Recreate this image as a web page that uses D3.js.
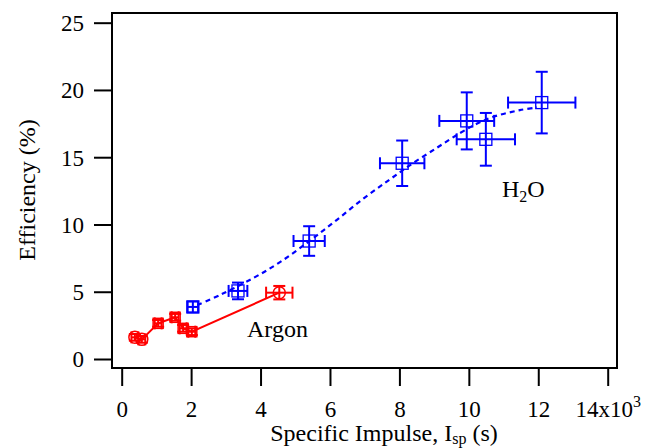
<!DOCTYPE html>
<html><head><meta charset="utf-8">
<script src="https://cdn.jsdelivr.net/npm/d3@7"></script>
<style>
body{margin:0;background:#fff;}
svg{display:block;}
</style></head>
<body><svg id="c" width="645" height="448"></svg>
<script>
// ---- data ----
const xTicks = [0, 2000, 4000, 6000, 8000, 10000, 12000, 14000];
const xTickLabels = ["0", "2", "4", "6", "8", "10", "12", "14x10"];
const yTicks = [0, 5, 10, 15, 20, 25];
const yTickLabels = ["0", "5", "10", "15", "20", "25"];

const h2oIsp = [2050, 3350, 5400, 8080, 9940, 10490, 12100];
const h2oEff = [3.87, 5.06, 8.77, 14.55, 17.70, 16.33, 19.06];
const h2oIspErr = [150, 270, 450, 640, 790, 840, 970];
const h2oEffErr = [0.4, 0.62, 1.1, 1.69, 2.12, 1.96, 2.29];

const h2oFitIsp = [2180, 2830, 3780, 4560, 5400, 6200, 7000, 7700, 8300, 9080, 9750, 10240, 10700, 11470, 11960];
const h2oFitEff = [4.01, 4.76, 6.0, 7.2, 8.75, 10.35, 12.0, 13.3, 14.4, 15.7, 16.8, 17.5, 18.0, 18.5, 18.7];

const arIsp = [380, 580, 1050, 1540, 1770, 2020, 4540];
const arEff = [1.61, 1.46, 2.65, 3.10, 2.28, 2.03, 4.93];
const arIspErr = [100, 100, 100, 100, 100, 100, 380];
const arEffErr = [0.25, 0.25, 0.25, 0.25, 0.25, 0.25, 0.5];
const arMarker = ["circle", "circle", "square", "square", "square", "square", "circle"];

const FONT = '"Liberation Serif"';

// ---- layout ----
const L = 112, R = 617, T = 13, B = 368;
const svg = d3.select("#c");
const x = d3.scaleLinear().domain([-279, 14268]).range([L, R]);
const y = d3.scaleLinear().domain([-0.669, 25.72]).range([B, T]);
const blue = "#0000ff", red = "#ff0000";
const FS = 23, TS = 24;

// axes
const gx = svg.append("g").attr("transform", `translate(0,${B})`)
  .call(d3.axisBottom(x).tickValues(xTicks).tickSize(18).tickFormat((d, i) => xTickLabels[i]));
const gy = svg.append("g").attr("transform", `translate(${L},0)`)
  .call(d3.axisLeft(y).tickValues(yTicks).tickSize(18).tickPadding(10).tickFormat((d, i) => yTickLabels[i]));
[gx, gy].forEach(g => {
  g.attr("font-family", FONT).attr("font-size", FS);
  g.select(".domain").remove();
  g.selectAll(".tick line").attr("stroke", "#000").attr("stroke-width", 2);
  g.selectAll(".tick text").attr("fill", "#000").attr("font-family", FONT).attr("font-size", FS);
});
gx.selectAll(".tick text").attr("dy", null).attr("y", 49);
gx.selectAll(".tick").filter((d, i) => i === xTicks.length - 1).select("text")
  .append("tspan").attr("dy", -10).attr("font-size", 16).text("3");
gy.selectAll(".tick text").attr("dy", "0.34em");

// frame
svg.append("rect").attr("x", L).attr("y", T).attr("width", R - L).attr("height", B - T)
  .attr("fill", "none").attr("stroke", "#000").attr("stroke-width", 2);

// titles
svg.append("text").attr("transform", "translate(35,190) rotate(-90)").attr("text-anchor", "middle")
  .attr("font-family", FONT).attr("font-size", TS).text("Efficiency (%)");
const xt = svg.append("text").attr("x", 384).attr("y", 441).attr("text-anchor", "middle")
  .attr("font-family", FONT).attr("font-size", TS);
xt.append("tspan").text("Specific Impulse, I");
xt.append("tspan").attr("font-size", 16).attr("dy", 3).text("sp");
xt.append("tspan").attr("dy", -3).text(" (s)");

// fit line
const line = d3.line().x(d => x(d[0])).y(d => y(d[1])).curve(d3.curveCatmullRom);
svg.append("path").datum(h2oFitIsp.map((v, i) => [v, h2oFitEff[i]]))
  .attr("d", line).attr("fill", "none").attr("stroke", blue).attr("stroke-width", 2.2)
  .attr("stroke-dasharray", "5,4");

// argon line
const lin = d3.line().x(d => x(d[0])).y(d => y(d[1]));
svg.append("path").datum(arIsp.map((v, i) => [v, arEff[i]]))
  .attr("d", lin).attr("fill", "none").attr("stroke", red).attr("stroke-width", 2);

function errbars(color, xs, ys, xe, ye) {
  const g = svg.append("g").attr("stroke", color).attr("stroke-width", 2).attr("fill", "none");
  const cap = 6;
  xs.forEach((v, i) => {
    const cx = x(v), cy = y(ys[i]);
    const x0 = x(v - xe[i]), x1 = x(v + xe[i]);
    const y0 = y(ys[i] - ye[i]), y1 = y(ys[i] + ye[i]);
    g.append("line").attr("x1", x0).attr("x2", x1).attr("y1", cy).attr("y2", cy);
    g.append("line").attr("x1", cx).attr("x2", cx).attr("y1", y0).attr("y2", y1);
    g.append("line").attr("x1", x0).attr("x2", x0).attr("y1", cy - cap).attr("y2", cy + cap);
    g.append("line").attr("x1", x1).attr("x2", x1).attr("y1", cy - cap).attr("y2", cy + cap);
    g.append("line").attr("x1", cx - cap).attr("x2", cx + cap).attr("y1", y0).attr("y2", y0);
    g.append("line").attr("x1", cx - cap).attr("x2", cx + cap).attr("y1", y1).attr("y2", y1);
  });
}
errbars(blue, h2oIsp, h2oEff, h2oIspErr, h2oEffErr);
errbars(red, arIsp, arEff, arIspErr, arEffErr);

// markers
svg.append("g").selectAll("rect").data(h2oIsp).join("rect")
  .attr("x", (d) => x(d) - 6).attr("y", (d, i) => y(h2oEff[i]) - 6)
  .attr("width", 12).attr("height", 12).attr("fill", "none").attr("stroke", blue).attr("stroke-width", 1.3);
const am = svg.append("g").attr("fill", "none").attr("stroke", red).attr("stroke-width", 1.5);
arIsp.forEach((v, i) => {
  if (arMarker[i] === "circle") {
    am.append("circle").attr("cx", x(v)).attr("cy", y(arEff[i])).attr("r", 6);
  } else {
    am.append("rect").attr("x", x(v) - 5).attr("y", y(arEff[i]) - 5).attr("width", 10).attr("height", 10);
  }
});

// labels
svg.append("text").attr("x", 247).attr("y", 337).attr("font-family", FONT).attr("font-size", 24).text("Argon");
const h = svg.append("text").attr("x", 502).attr("y", 197).attr("font-family", FONT).attr("font-size", 24);
h.append("tspan").text("H");
h.append("tspan").attr("font-size", 16).attr("dy", 5).text("2");
h.append("tspan").attr("dy", -5).text("O");
</script></body></html>
